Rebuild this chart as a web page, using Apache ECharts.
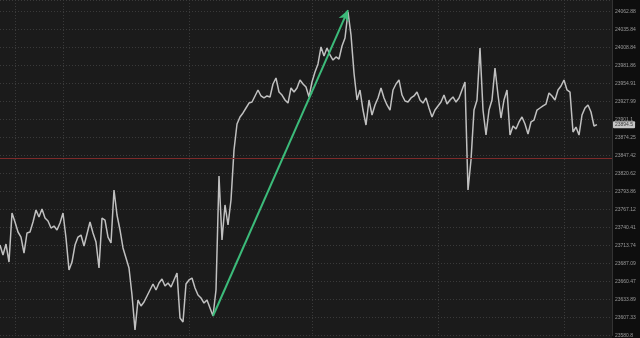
<!DOCTYPE html>
<html><head><meta charset="utf-8">
<script src="https://cdn.jsdelivr.net/npm/echarts@6/dist/echarts.min.js"></script>
<style>html,body{margin:0;padding:0;background:#1b1b1b}#c{width:640px;height:338px}</style>
</head><body><div id="c"></div><script>
const priceValues = [
23715.4,23700.6,23716.9,23690.1,23763.1,23749.7,23734.8,23727.3,23703.5,23733.3,
23734.8,23749.7,23767.5,23757.1,23769.0,23755.6,23751.2,23740.7,23743.7,23737.8,
23748.2,23763.1,23725.9,23678.2,23690.1,23715.4,23727.3,23730.3,23714.0,23731.8,
23749.7,23733.3,23719.9,23681.2,23755.6,23752.6,23727.3,23718.4,23797.3,23760.1,
23737.8,23711.0,23696.1,23681.2,23641.0,23589.0,23633.6,23624.7,23630.6,23639.6,
23648.5,23657.4,23648.5,23658.9,23664.9,23654.4,23658.9,23652.9,23663.4,23673.8,
23606.8,23600.9,23657.4,23663.4,23666.3,23651.5,23641.0,23636.6,23629.1,23633.6,
23621.7,23609.8,23648.5,23818.1,23722.9,23775.0,23745.2,23782.4,23856.8,23895.5,
23905.9,23911.9,23919.3,23926.7,23928.2,23937.2,23946.1,23937.2,23934.2,23937.2,
23935.7,23955.0,23963.9,23943.1,23938.6,23931.2,23926.7,23949.1,23943.1,23949.1,
23961.0,23955.0,23950.5,23935.7,23958.0,23972.9,23984.8,24010.1,23996.7,24008.6,
23998.2,23990.7,23995.2,23992.2,24011.6,24023.5,24062.1,24027.9,23971.4,23931.2,
23946.1,23916.3,23894.0,23931.2,23908.9,23923.8,23934.2,23949.1,23934.2,23923.8,
23916.3,23946.1,23955.0,23961.0,23938.6,23929.7,23928.2,23934.2,23937.2,23943.1,
23931.2,23926.7,23934.2,23919.3,23905.9,23916.3,23922.3,23928.2,23938.6,23925.2,
23931.2,23935.7,23928.2,23934.2,23946.1,23958.0,23797.3,23841.9,23916.3,23931.2,
24008.6,23916.3,23879.1,23916.3,23931.2,23978.8,23938.6,23904.4,23931.2,23946.1,
23879.1,23892.5,23888.0,23898.5,23905.9,23895.5,23880.6,23898.5,23901.4,23916.3,
23919.3,23922.3,23925.2,23941.6,23937.2,23931.2,23946.1,23952.0,23961.0,23946.1,
23943.1,23883.6,23891.0,23879.1,23908.9,23919.3,23923.8,23913.3,23892.5,23894.5
];
const tickLabels = ['24062.88','24035.84','24008.84','23981.86','23954.91','23927.99','23901.1','23874.25','23847.42','23820.62','23793.86','23767.12','23740.41','23713.74','23687.09','23660.47','23633.89','23607.33','23580.8'];
const slotCount = 205;
const categories = Array.from({length: slotCount}, (_, i) => String(i));
const gridLineIdx = [5, 21, 63, 104, 146, 188];
const refLevel = 23845;
const lastPrice = 23894.5;
const arrowFrom = ['71', 23609.8];
const arrowTo = ['116', 24065];

const tickNums = tickLabels.map(Number);
const yMin = tickNums[tickNums.length - 1];
const yTop = tickNums[0];
const step = (yTop - yMin) / (tickNums.length - 1);
const yMax = yTop + step * 11.5 / 18;

const chart = echarts.init(document.getElementById('c'));
chart.setOption({
  animation: false,
  backgroundColor: '#1b1b1b',
  graphic: [{type: 'rect', right: 0, top: 0, z: -10, shape: {width: 28, height: 338}, style: {fill: '#0e0e0e'}}],
  grid: {left: 0, right: 28, top: 0, bottom: 2.5},
  xAxis: {
    type: 'category', data: categories, boundaryGap: false,
    axisLine: {show: false}, axisTick: {show: false}, axisLabel: {show: false},
    splitLine: {show: true, interval: (i) => gridLineIdx.includes(i), lineStyle: {color: '#3a3a3a', type: [1, 2], width: 1}}
  },
  yAxis: {
    type: 'value', position: 'right', min: yMin, max: yMax, interval: step,
    axisLine: {show: true, lineStyle: {color: '#333'}}, axisTick: {show: false},
    axisLabel: {
      margin: 3, fontSize: 5, color: '#9a9a9a', fontFamily: 'Liberation Sans',
      formatter: (v) => {
        const k = Math.round((v - yMin) / step);
        if (Math.abs(v - (yMin + k * step)) > step * 0.1 || k < 0 || k >= tickLabels.length) return '';
        return tickLabels[tickLabels.length - 1 - k];
      }
    },
    splitLine: {show: true, lineStyle: {color: '#3a3a3a', type: [1, 2], width: 1}}
  },
  series: [{
    name: 'price', type: 'line', data: priceValues, symbol: 'none', clip: false, z: 3,
    lineStyle: {color: '#c0c0c0', width: 1.5},
    markLine: {
      silent: true, animation: false, symbol: ['none', 'none'],
      data: [
        {yAxis: refLevel, lineStyle: {color: '#7d2b2b', width: 1, type: 'solid'}, label: {show: false}},
        {yAxis: lastPrice, lineStyle: {color: 'rgba(0,0,0,0)', width: 0}, label: {show: true, position: 'end', distance: 1, formatter: String(lastPrice), backgroundColor: '#c6c6c6', color: '#3a3a3a', fontSize: 5, fontFamily: 'Liberation Sans', padding: [1, 2, 1, 2], borderRadius: 1}}
      ],
      label: {show: false}
    }
  }, {
    name: 'arrow', type: 'line', data: [], symbol: 'none', z: 4,
    markLine: {
      silent: true, animation: false, symbol: ['none', 'arrow'], symbolSize: [8, 11],
      lineStyle: {color: '#3cbb7a', width: 2, type: 'solid'},
      label: {show: false},
      data: [[{coord: arrowFrom}, {coord: arrowTo}]]
    }
  }]
});
</script></body></html>
